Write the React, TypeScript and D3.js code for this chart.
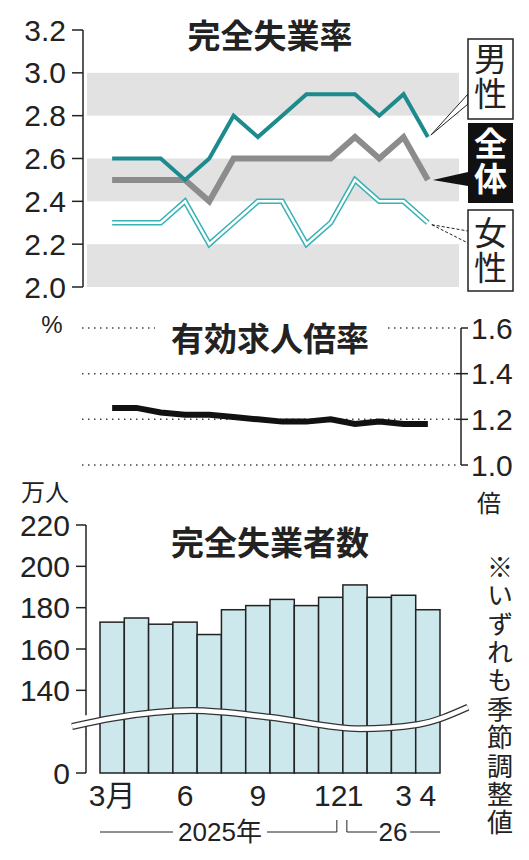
import * as d3 from 'd3';

// 2025年3月 〜 2026年4月
const MONTHS = ['2025-03', '2025-04', '2025-05', '2025-06', '2025-07', '2025-08', '2025-09',
  '2025-10', '2025-11', '2025-12', '2026-01', '2026-02', '2026-03', '2026-04'];
const X_TICK_INDEX = [0, 3, 6, 9, 10, 12, 13];
const X_TICK_LABEL = ['3月', '6', '9', '12', '1', '3', '4'];

// 完全失業率 (%)
const RATE_MALE = [2.6, 2.6, 2.6, 2.5, 2.6, 2.8, 2.7, 2.8, 2.9, 2.9, 2.9, 2.8, 2.9, 2.7];
const RATE_TOTAL = [2.5, 2.5, 2.5, 2.5, 2.4, 2.6, 2.6, 2.6, 2.6, 2.6, 2.7, 2.6, 2.7, 2.5];
const RATE_FEMALE = [2.3, 2.3, 2.3, 2.4, 2.2, 2.3, 2.4, 2.4, 2.2, 2.3, 2.5, 2.4, 2.4, 2.3];
const RATE_TICKS = [3.2, 3.0, 2.8, 2.6, 2.4, 2.2, 2.0];
const RATE_BANDS = [[2.8, 3.0], [2.4, 2.6], [2.0, 2.2]];

// 有効求人倍率 (倍)
const JOB_RATIO = [1.25, 1.25, 1.23, 1.22, 1.22, 1.21, 1.20, 1.19, 1.19, 1.20, 1.18, 1.19, 1.18, 1.18];
const RATIO_TICKS = [1.6, 1.4, 1.2, 1.0];

// 完全失業者数 (万人)
const UNEMPLOYED = [173, 175, 172, 173, 167, 179, 181, 184, 181, 185, 191, 185, 186, 179];
const COUNT_TICKS = [220, 200, 180, 160, 140];

const NOTE = '※いずれも季節調整値';

const FONT = '"Noto Sans CJK JP", "Noto Sans", sans-serif';
const NUM_FONT = '"Liberation Sans", "Noto Sans CJK JP", sans-serif';
const TEAL = '#1d8b8d';
const TEAL_LIGHT = '#39b2b6';
const GRAY_LINE = '#8c8c8c';
const BAND = '#e2e2e2';
const BAR_FILL = '#cce8ec';
const INK = '#222';

const W = 529;
const H = 860;

function App() {
  // shared x positions (bar centres)
  const xBand = d3.scaleBand<number>().domain(d3.range(MONTHS.length)).range([100, 440]).paddingInner(0);
  const bw = xBand.bandwidth();
  const cx = (i: number) => (xBand(i) ?? 0) + bw / 2;
  const xi = d3.scaleLinear().domain([0, MONTHS.length - 1]).range([cx(0), cx(MONTHS.length - 1)]);

  // ---- top: unemployment rate
  const yRate = d3.scaleLinear().domain([2.0, 3.2]).range([287, 30]);
  const rateLine = d3.line<number>().x((_, i) => cx(i)).y(d => yRate(d)).curve(d3.curveLinear);
  const last = MONTHS.length - 1;
  const endX = cx(last);

  // ---- middle: job ratio
  const yRatio = d3.scaleLinear().domain([1.0, 1.6]).range([465, 328]);
  const ratioLine = d3.line<number>().x((_, i) => cx(i)).y(d => yRatio(d));

  // ---- bottom: unemployed (axis broken, "0" drawn at 100)
  const yCount = d3.scaleLinear().domain([100, 220]).range([773, 525]);

  // wave for the broken axis, in index / value units
  const wavePts: [number, number][] = [[-1.65, 122.5], [0, 126.5], [3.3, 130.2], [6.5, 127], [10.2, 121.4], [12.6, 123.5], [14.65, 131.8]];
  const wave = d3.line<[number, number]>().x(d => xi(d[0])).y(d => yCount(d[1])).curve(d3.curveMonotoneX)(wavePts) ?? '';
  const axisBreak = yCount(125);

  const yearY = 832;
  const split = xi(9.5);

  const vertical = { writingMode: 'vertical-rl' as const };

  return (
    <svg width={W} height={H} viewBox={`0 0 ${W} ${H}`}
      style={{ position: 'absolute', left: 0, top: 0, background: '#fff', fontFamily: FONT }}>
      <rect width={W} height={H} fill="#fff" />

      {/* ================= 完全失業率 ================= */}
      {RATE_BANDS.map(([a, b]) => (
        <rect key={a} x={87} y={yRate(b)} width={459 - 87} height={yRate(a) - yRate(b)} fill={BAND} />
      ))}
      <line x1={83} x2={83} y1={yRate(3.2)} y2={yRate(2.0)} stroke={INK} strokeWidth={1.5} />
      {RATE_TICKS.map(t => (
        <g key={t}>
          <line x1={72} x2={83} y1={yRate(t)} y2={yRate(t)} stroke={INK} strokeWidth={1.5} />
          <text x={66} y={yRate(t)} textAnchor="end" dominantBaseline="central" fontSize={30} fontFamily={NUM_FONT} fill={INK}>
            {t.toFixed(1)}
          </text>
        </g>
      ))}
      <text x={270} y={34} textAnchor="middle" dominantBaseline="central" fontSize={33} fontWeight={700} fill={INK}>完全失業率</text>

      <path d={rateLine(RATE_FEMALE) ?? ''} fill="none" stroke={TEAL_LIGHT} strokeWidth={5.5} strokeLinejoin="miter" />
      <path d={rateLine(RATE_FEMALE) ?? ''} fill="none" stroke="#fff" strokeWidth={2.5} strokeLinejoin="miter" />
      <path d={rateLine(RATE_TOTAL) ?? ''} fill="none" stroke={GRAY_LINE} strokeWidth={6} strokeLinejoin="miter" />
      <path d={rateLine(RATE_MALE) ?? ''} fill="none" stroke={TEAL} strokeWidth={4} strokeLinejoin="miter" />

      {/* pointers to the labels */}
      <polygon points={`${endX + 3},${yRate(RATE_MALE[last]) - 2} 468,94 468,104`} fill="#fff" stroke={INK} strokeWidth={1} />
      <polygon points={`${endX + 5},${yRate(RATE_TOTAL[last])} 468,172 468,186`} fill="#111" />
      <line x1={endX + 4} y1={yRate(RATE_FEMALE[last]) + 2} x2={468} y2={231} stroke={INK} strokeWidth={1} strokeDasharray="3,2" />
      <line x1={endX + 4} y1={yRate(RATE_FEMALE[last]) + 2} x2={468} y2={243} stroke={INK} strokeWidth={1} strokeDasharray="3,2" />

      <rect x={468} y={39} width={45} height={80} fill="#fff" stroke={INK} strokeWidth={1.5} />
      <text x={490.5} y={77} textAnchor="middle" fontSize={33} letterSpacing={2} fill={INK} style={vertical}>男性</text>
      <rect x={468} y={123} width={45} height={80} fill="#111" />
      <text x={490.5} y={162} textAnchor="middle" fontSize={33} letterSpacing={2} fontWeight={700} fill="#fff" style={vertical}>全体</text>
      <rect x={468} y={210} width={45} height={81} fill="#fff" stroke={INK} strokeWidth={1.5} />
      <text x={490.5} y={251} textAnchor="middle" fontSize={33} letterSpacing={2} fill={INK} style={vertical}>女性</text>

      <text x={52} y={324} textAnchor="middle" dominantBaseline="central" fontSize={24} fontFamily={NUM_FONT} fill={INK}>%</text>

      {/* ================= 有効求人倍率 ================= */}
      {RATIO_TICKS.map(t => (
        <g key={t}>
          <line x1={82} x2={456} y1={yRatio(t)} y2={yRatio(t)} stroke="#444" strokeWidth={1.5} strokeDasharray="1.5,4.5" />
          <line x1={t === 1.6 || t === 1.0 ? 461 : 456} x2={468} y1={yRatio(t)} y2={yRatio(t)} stroke={INK} strokeWidth={1.5} />
          <text x={471} y={yRatio(t)} textAnchor="start" dominantBaseline="central" fontSize={30} fontFamily={NUM_FONT} fill={INK}>
            {t.toFixed(1)}
          </text>
        </g>
      ))}
      <line x1={461} x2={461} y1={yRatio(1.6)} y2={yRatio(1.0)} stroke={INK} strokeWidth={1.5} />
      <rect x={155} y={318} width={232} height={40} fill="#fff" />
      <text x={270} y={337} textAnchor="middle" dominantBaseline="central" fontSize={33} fontWeight={700} fill={INK}>有効求人倍率</text>
      <path d={ratioLine(JOB_RATIO) ?? ''} fill="none" stroke="#111" strokeWidth={6} />
      <text x={489} y={501} textAnchor="middle" dominantBaseline="central" fontSize={24} fill={INK}>倍</text>

      {/* ================= 完全失業者数 ================= */}
      <text x={45} y={490} textAnchor="middle" dominantBaseline="central" fontSize={24} fill={INK}>万人</text>
      <text x={270} y={541} textAnchor="middle" dominantBaseline="central" fontSize={33} fontWeight={700} fill={INK}>完全失業者数</text>

      {UNEMPLOYED.map((v, i) => (
        <rect key={MONTHS[i]} x={xBand(i)} y={yCount(v)} width={bw} height={yCount(100) - yCount(v)}
          fill={BAR_FILL} stroke={INK} strokeWidth={1.5} />
      ))}

      <line x1={86} x2={86} y1={yCount(220)} y2={axisBreak - 6} stroke={INK} strokeWidth={1.5} />
      <line x1={86} x2={86} y1={axisBreak + 5} y2={yCount(100)} stroke={INK} strokeWidth={1.5} />
      {COUNT_TICKS.map(t => (
        <g key={t}>
          <line x1={76} x2={86} y1={yCount(t)} y2={yCount(t)} stroke={INK} strokeWidth={1.5} />
          <text x={70} y={yCount(t)} textAnchor="end" dominantBaseline="central" fontSize={30} fontFamily={NUM_FONT} fill={INK}>{t}</text>
        </g>
      ))}
      <line x1={76} x2={86} y1={yCount(100)} y2={yCount(100)} stroke={INK} strokeWidth={1.5} />
      <text x={70} y={yCount(100)} textAnchor="end" dominantBaseline="central" fontSize={30} fontFamily={NUM_FONT} fill={INK}>0</text>

      {/* axis break wave */}
      <path d={wave} fill="none" stroke="#333" strokeWidth={7} />
      <path d={wave} fill="none" stroke="#fff" strokeWidth={4.5} />

      {X_TICK_INDEX.map((idx, k) => (
        <text key={idx} x={cx(idx)} y={795} textAnchor="middle" dominantBaseline="central" fontSize={30} fontFamily={NUM_FONT} fill={INK}>
          {X_TICK_LABEL[k]}
        </text>
      ))}

      {/* year bracket */}
      <line x1={100} x2={173} y1={yearY} y2={yearY} stroke={INK} strokeWidth={1} />
      <text x={220} y={yearY} textAnchor="middle" dominantBaseline="central" fontSize={26} fontFamily={NUM_FONT} fill={INK}>2025年</text>
      <polyline points={`267,${yearY} ${split - 6},${yearY} ${split - 6},${yearY - 12}`} fill="none" stroke={INK} strokeWidth={1} />
      <polyline points={`${split + 4},${yearY - 12} ${split + 4},${yearY} 377,${yearY}`} fill="none" stroke={INK} strokeWidth={1} />
      <text x={393} y={yearY} textAnchor="middle" dominantBaseline="central" fontSize={26} fontFamily={NUM_FONT} fill={INK}>26</text>
      <line x1={410} x2={440} y1={yearY} y2={yearY} stroke={INK} strokeWidth={1} />

      {/* vertical note */}
      <text x={500} y={696} textAnchor="middle" fontSize={26} letterSpacing={2.4} fill={INK} style={vertical}>{NOTE}</text>
    </svg>
  );
}

export default App;
